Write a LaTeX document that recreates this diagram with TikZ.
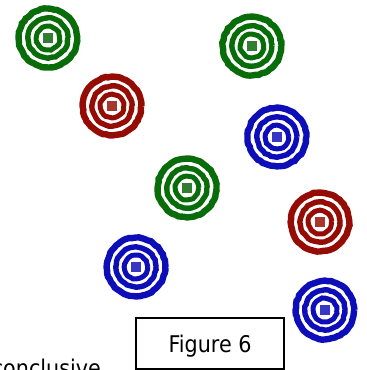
\documentclass[tikz,border=0pt]{standalone}
\usepackage{fontspec}
\usetikzlibrary{decorations.pathmorphing}
\newfontfamily\tahfont[FakeStretch=0.9]{DejaVu Sans}
\definecolor{tgreen}{RGB}{8,108,8}
\definecolor{tred}{RGB}{148,12,4}
\definecolor{tblue}{RGB}{14,14,184}
\definecolor{dgreen}{RGB}{50,125,50}
\definecolor{dred}{RGB}{165,55,45}
\definecolor{dblue}{RGB}{55,55,195}
\pgfmathsetseed{7}
\tikzset{
  rough/.style={decorate, decoration={random steps, segment length=3pt, amplitude=0.5pt}},
  ringA/.style={rough, line width=6.4pt},
  ringB/.style={rough, line width=5.4pt},
  ringC/.style={rough, line width=5pt},
  pics/target/.style 2 args={code={
    \draw[ringA,#1] (0,0) circle (29.2);
    \draw[ringB,#1] (0,0) circle (19.8);
    \draw[ringC,#1] (0,0) circle (11.5);
    \fill[fill=#2] (-4.6,-4.6) rectangle (4.6,4.6);
  }},
  lbl/.style={font=\tahfont\fontsize{23}{27}\selectfont, inner sep=0pt},
  figbox/.style={draw=black, line width=1.4pt, minimum width=148pt, minimum height=51pt,
    text height=17pt, text depth=0pt, inner sep=0pt}
}
\begin{document}
\begin{tikzpicture}[x=1pt,y=-1pt]
\useasboundingbox (0,0) rectangle (367,370);
\clip (0,0) rectangle (367,370);
\coordinate (g1) at (48,38);
\coordinate (g2) at (252,46);
\coordinate (r1) at (112,106);
\coordinate (b1) at (277,137);
\coordinate (g3) at (187,188);
\coordinate (r2) at (320,222);
\coordinate (b2) at (136,267);
\coordinate (b3) at (325,310);
\pic at (g1) {target={tgreen}{dgreen}};
\pic at (g2) {target={tgreen}{dgreen}};
\pic at (r1) {target={tred}{dred}};
\pic at (b1) {target={tblue}{dblue}};
\pic at (g3) {target={tgreen}{dgreen}};
\pic at (r2) {target={tred}{dred}};
\pic at (b2) {target={tblue}{dblue}};
\pic at (b3) {target={tblue}{dblue}};
\node[figbox, lbl] (fig) at (210,343.5) {Figure 6};
\node[lbl, anchor=base east] (concl) at (101,376) {conclusive};
\end{tikzpicture}
\end{document}
